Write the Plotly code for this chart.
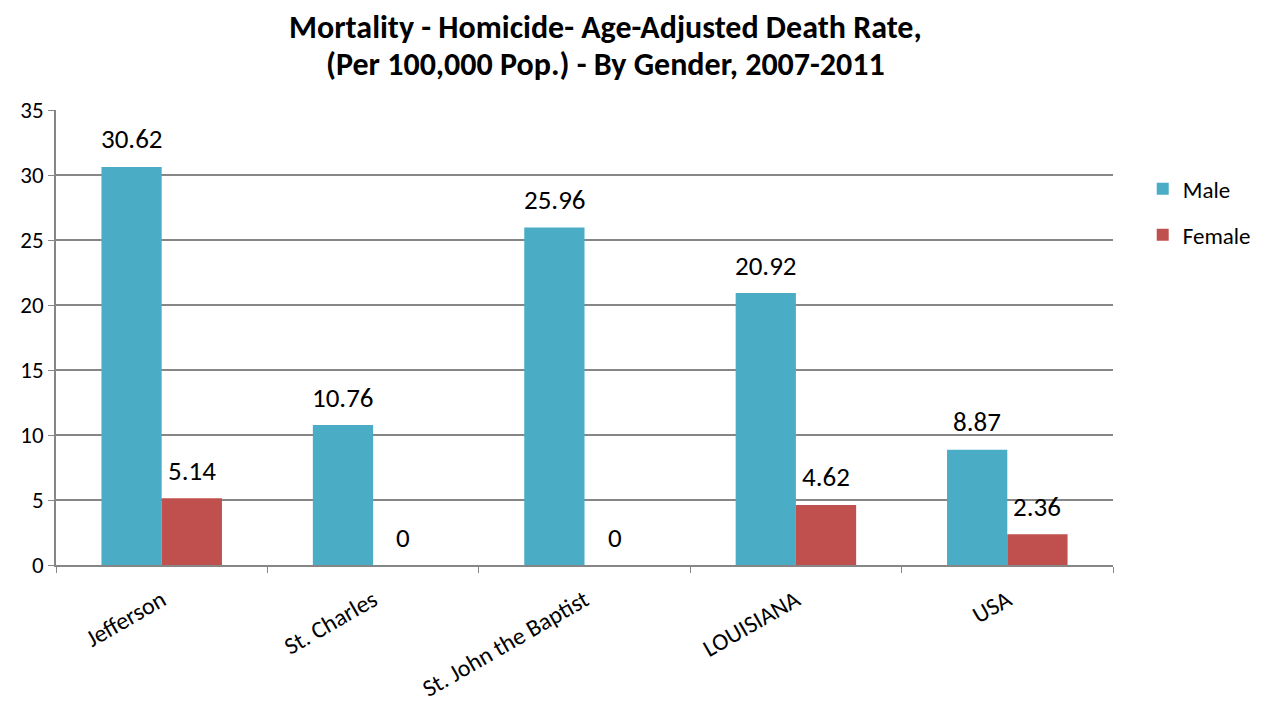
import plotly.graph_objects as go

# datos de la gráfica
lugares = ['Jefferson', 'St. Charles', 'St. John the Baptist', 'LOUISIANA', 'USA']
hombres = [30.62, 10.76, 25.96, 20.92, 8.87]
mujeres = [5.14, 0, 0, 4.62, 2.36]
ticks_y = [0, 5, 10, 15, 20, 25, 30, 35]
titulo = ['Mortality - Homicide- Age-Adjusted Death Rate,',
          '(Per 100,000 Pop.) - By Gender, 2007-2011']

fuente = 'Carlito, Lato, sans-serif'
azul = '#4BACC6'
rojo = '#C0504D'
gris = '#868686'

fig = go.Figure()
fig.add_trace(go.Bar(x=lugares, y=hombres, name='Male', marker_color=azul,
                     legendgroup='m', marker_line_width=0))
fig.add_trace(go.Bar(x=lugares, y=mujeres, name='Female', marker_color=rojo,
                     legendgroup='f', marker_line_width=0))

# etiquetas de valores encima de cada barra
for serie, desplaz in [(hombres, -30), (mujeres, 30)]:
    for lugar, valor in zip(lugares, serie):
        fig.add_annotation(x=lugar, y=valor, text=f'{valor:g}', showarrow=False,
                           xshift=desplaz, yshift=28, yanchor='middle',
                           font=dict(family=fuente, size=27, color='black'))

# título: una anotación por línea
for linea, pos_y in zip(titulo, [1.182, 1.099]):
    fig.add_annotation(xref='paper', yref='paper', x=0.52, y=pos_y, xanchor='center',
                       yanchor='middle', text=f'<b>{linea}</b>', showarrow=False,
                       font=dict(family=fuente, size=32, color='black'))

fig.update_layout(
    barmode='group', bargap=0.43, bargroupgap=0,
    width=1258, height=696,
    margin=dict(l=48, r=153, t=102, b=139, autoexpand=False),
    plot_bgcolor='white', paper_bgcolor='white',
    font=dict(family=fuente, size=23, color='black'),
    showlegend=True,
    legend=dict(xref='container', yref='container', x=0.902, y=0.771,
                xanchor='left', yanchor='top',
                tracegroupgap=13, font=dict(size=23), itemwidth=30),
)
fig.update_yaxes(range=[0, 35], tickvals=ticks_y, showgrid=True, gridcolor=gris,
                 gridwidth=1.5, showline=True, linecolor=gris, linewidth=1.5,
                 ticks='outside', ticklen=6, tickcolor=gris, zeroline=False,
                 tickfont=dict(size=23))
fig.update_xaxes(showline=True, linecolor=gris, linewidth=1.5, ticks='outside',
                 tickson='boundaries', ticklen=6, tickcolor=gris, tickangle=-30,
                 ticklabelstandoff=10, tickfont=dict(size=24))

fig.write_html('out.html')
